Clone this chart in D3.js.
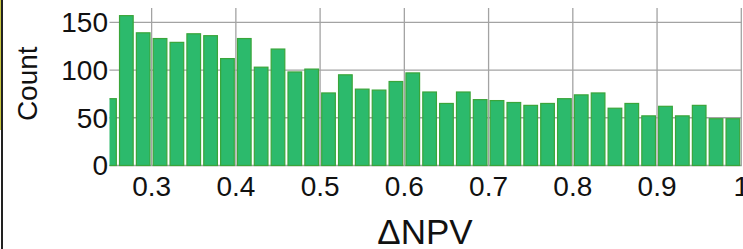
<!DOCTYPE html>
<html lang="en">
<head>
<meta charset="UTF-8">
<title>Count vs ΔNPV</title>
<style>
    body { margin: 0; background: #fff; }
    svg { display: block; }
    text { font-family: "Liberation Sans", Arial, sans-serif; fill: #111; }
</style>
</head>
<body>
<svg id="chart" width="743" height="249"></svg>
<script src="https://d3js.org/d3.v7.min.js"></script>
<script>
// histogram bins (lower edges), bin width 0.02
const binEdges = [0.24, 0.26, 0.28, 0.30, 0.32, 0.34, 0.36, 0.38, 0.40, 0.42,
                  0.44, 0.46, 0.48, 0.50, 0.52, 0.54, 0.56, 0.58, 0.60, 0.62,
                  0.64, 0.66, 0.68, 0.70, 0.72, 0.74, 0.76, 0.78, 0.80, 0.82,
                  0.84, 0.86, 0.88, 0.90, 0.92, 0.94, 0.96, 0.98];
const binWidth = 0.02;
const counts = [70, 157, 139, 133, 129, 138, 136, 112, 133, 103,
                122, 98, 101, 76, 95, 80, 79, 88, 97, 77,
                65, 77, 69, 68, 66, 63, 65, 70, 74, 76,
                60, 65, 52, 62, 52, 63, 49, 49];
const xTicks = [0.3, 0.4, 0.5, 0.6, 0.7, 0.8, 0.9, 1];
const yTicks = [0, 50, 100, 150];

const svg = d3.select("#chart");

// frame bits on the left edge of the picture
svg.append("rect").attr("x", 0).attr("y", 0).attr("width", 1).attr("height", 130).attr("fill", "#c9c640");
svg.append("rect").attr("x", 1).attr("y", 0).attr("width", 2).attr("height", 249).attr("fill", "#222");

const x = d3.scaleLinear().domain([0.25, 1.0]).range([109.5, 741.3]);
const y = d3.scaleLinear().domain([0, 165]).range([165.5, 8]);

svg.append("clipPath").attr("id", "plot-clip")
    .append("rect").attr("x", x(0.25)).attr("y", 0).attr("width", 743 - x(0.25)).attr("height", 170);

// grid
const grid = svg.append("g").attr("stroke", "#a3a3a3").attr("stroke-width", 1.3);
grid.selectAll("line.v").data(xTicks).join("line")
    .attr("x1", d => x(d)).attr("x2", d => x(d))
    .attr("y1", y.range()[1]).attr("y2", y(0));
grid.selectAll("line.h").data(yTicks).join("line")
    .attr("x1", x(0.25)).attr("x2", 742)
    .attr("y1", d => y(d)).attr("y2", d => y(d));

// bars
svg.append("g").attr("clip-path", "url(#plot-clip)")
    .selectAll("rect").data(counts).join("rect")
    .attr("x", (d, i) => x(binEdges[i]) + 1.6)
    .attr("width", (d, i) => x(binEdges[i] + binWidth) - x(binEdges[i]) - 3.2)
    .attr("y", d => y(d))
    .attr("height", d => y(0) - y(d))
    .attr("fill", "#2cba6c")
    .attr("stroke", "#3aa53a")
    .attr("stroke-width", 1.2);

// tick labels
svg.append("g").selectAll("text").data(xTicks).join("text")
    .attr("x", d => x(d)).attr("y", 196)
    .attr("text-anchor", "middle")
    .style("font-size", "28px")
    .text(d => d3.format("")(d));

svg.append("g").selectAll("text").data(yTicks).join("text")
    .attr("x", 108).attr("y", d => y(d))
    .attr("dy", "0.35em")
    .attr("text-anchor", "end")
    .style("font-size", "28px")
    .text(d => d);

// axis titles
svg.append("text")
    .attr("transform", `translate(36.5,${(y.range()[1] + y(0)) / 2 - 3}) rotate(-90)`)
    .attr("text-anchor", "middle")
    .style("font-size", "28px")
    .text("Count");

svg.append("text")
    .attr("x", 425).attr("y", 244)
    .attr("text-anchor", "middle")
    .style("font-size", "35px")
    .text("ΔNPV");
</script>
</body>
</html>
